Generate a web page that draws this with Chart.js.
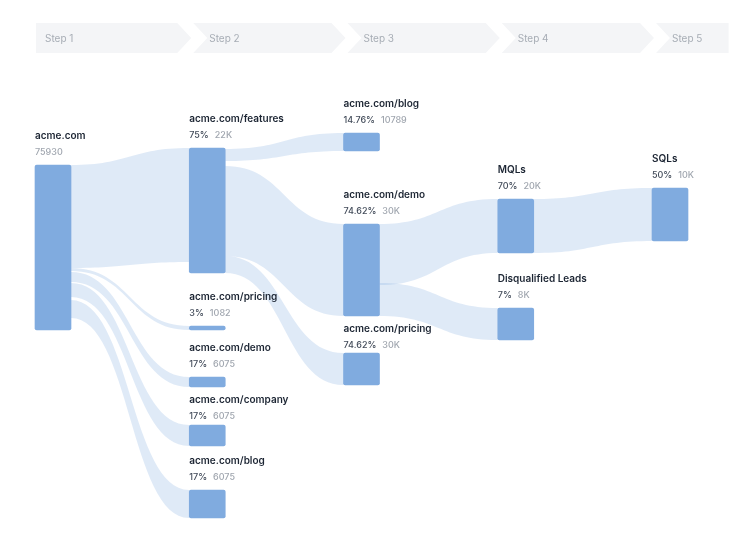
<!DOCTYPE html>
<html>
<head>
<meta charset="utf-8">
<script src="https://cdn.jsdelivr.net/npm/chart.js@4"></script>
<style>
  body { margin: 0; background: #fff; }
  #wrap { width: 748px; height: 534px; position: relative; }
</style>
</head>
<body>
<div id="wrap"><canvas id="myChart"></canvas></div>
<script>
// steps across the top
const steps = ['Step 1', 'Step 2', 'Step 3', 'Step 4', 'Step 5'];

// nodes
const nodeNames = ['acme.com', 'acme.com/features', 'acme.com/pricing', 'acme.com/demo', 'acme.com/company', 'acme.com/blog',
    'acme.com/blog', 'acme.com/demo', 'acme.com/pricing', 'MQLs', 'Disqualified Leads', 'SQLs'];
const nodeStep = [0, 1, 1, 1, 1, 1, 2, 2, 2, 3, 3, 4];
const nodePct = ['', '75%', '3%', '17%', '17%', '17%', '14.76%', '74.62%', '74.62%', '70%', '7%', '50%'];
const nodeValue = ['75930', '22K', '1082', '6075', '6075', '6075', '10789', '30K', '30K', '20K', '8K', '10K'];
// extent of each node on the flow axis (0 = top)
const nodeTop = [165, 148, 326, 377, 425, 490, 133, 224, 353, 199, 308, 188];
const nodeBottom = [330, 273, 330, 387, 446, 518, 151, 316, 385, 253, 340, 241];

// links between nodes (index into nodes) and where they attach
const linkFrom = [0, 0, 0, 0, 0, 1, 1, 1, 7, 7, 9];
const linkTo = [1, 2, 3, 4, 5, 6, 7, 8, 9, 10, 11];
const linkFromTop = [165, 268, 272, 283, 300, 149, 166, 256, 224, 283, 199];
const linkFromBottom = [268, 271, 282, 297, 318, 161, 256, 273, 285, 316, 253];
const linkToTop = [148, 326, 377, 425, 490, 133, 224, 353, 199, 308, 188];
const linkToBottom = [262, 330, 387, 446, 518, 151, 316, 385, 253, 340, 241];

const FONT = 'Inter, "Open Sans", sans-serif';

const headerPlugin = {
    id: 'stepHeader',
    beforeDatasetsDraw(chart) {
        const c = chart.ctx;
        const xs = chart.scales.x;
        const top = 23, bottom = 53, mid = (top + bottom) / 2;
        const d = 14;
        c.save();
        steps.forEach((s, i) => {
            const L = xs.getPixelForValue(i) - 18;
            const isLast = i === steps.length - 1;
            const R = isLast ? xs.getPixelForValue(i + 0.38) : xs.getPixelForValue(i + 1) - 18 + 2;
            const left = i === 0 ? L + 1 : L + 4;
            c.beginPath();
            c.moveTo(left, top);
            if (isLast) {
                c.lineTo(R, top);
                c.lineTo(R, bottom);
            } else {
                c.lineTo(R - d, top);
                c.lineTo(R, mid);
                c.lineTo(R - d, bottom);
            }
            c.lineTo(left, bottom);
            if (i > 0) c.lineTo(left + d, mid);
            c.closePath();
            c.fillStyle = '#f4f5f7';
            c.fill();
            c.fillStyle = '#a7adb5';
            c.font = '400 10px ' + FONT;
            c.textBaseline = 'middle';
            c.fillText(s, i === 0 ? L + 10 : L + 20, mid + 1);
        });
        c.restore();
    }
};

const linkPlugin = {
    id: 'links',
    beforeDatasetsDraw(chart) {
        const c = chart.ctx;
        const ys = chart.scales.y;
        const bars = chart.getDatasetMeta(0).data;
        c.save();
        c.fillStyle = 'rgba(127,170,222,0.25)';
        linkFrom.forEach((f, i) => {
            const a = bars[f], b = bars[linkTo[i]];
            const x0 = a.x + a.width / 2, x1 = b.x - b.width / 2;
            const xm = (x0 + x1) / 2;
            const s0 = ys.getPixelForValue(linkFromTop[i]), s1 = ys.getPixelForValue(linkFromBottom[i]);
            const t0 = ys.getPixelForValue(linkToTop[i]), t1 = ys.getPixelForValue(linkToBottom[i]);
            c.beginPath();
            c.moveTo(x0, s0);
            c.bezierCurveTo(xm, s0, xm, t0, x1, t0);
            c.lineTo(x1, t1);
            c.bezierCurveTo(xm, t1, xm, s1, x0, s1);
            c.closePath();
            c.fill();
        });
        c.restore();
    }
};

const labelPlugin = {
    id: 'nodeLabels',
    afterDatasetsDraw(chart) {
        const c = chart.ctx;
        const bars = chart.getDatasetMeta(0).data;
        c.save();
        c.textBaseline = 'middle';
        bars.forEach((bar, i) => {
            const x = bar.x - bar.width / 2;
            const top = Math.min(bar.y, bar.base);
            // keep the label clear of the node above it in the same step
            let nameY = top - 29;
            if (i > 0 && nodeStep[i - 1] === nodeStep[i]) {
                const prev = bars[i - 1];
                nameY = Math.max(nameY, Math.max(prev.y, prev.base) + 13);
            }
            const statY = nameY + 16;
            c.font = '600 10px ' + FONT;
            c.fillStyle = '#1c2533';
            c.fillText(nodeNames[i], x, nameY);
            let tx = x;
            c.font = '500 9px ' + FONT;
            if (nodePct[i]) {
                c.fillStyle = '#434c5a';
                c.fillText(nodePct[i], tx, statY);
                tx += c.measureText(nodePct[i]).width + 6;
            }
            c.fillStyle = '#a0a6af';
            c.fillText(nodeValue[i], tx, statY);
        });
        c.restore();
    }
};

const ctx = document.getElementById('myChart');
new Chart(ctx, {
    type: 'bar',
    data: {
        datasets: [{
            label: 'Visitors',
            data: nodeNames.map((n, i) => ({ x: nodeStep[i], y: [nodeTop[i], nodeBottom[i]] })),
            backgroundColor: '#80abdf',
            borderRadius: 2,
            borderSkipped: false,
            barThickness: 36
        }]
    },
    options: {
        responsive: true,
        maintainAspectRatio: false,
        animation: false,
        layout: { padding: 0 },
        scales: {
            x: { type: 'linear', min: -53 / 154.25, max: (748 - 53) / 154.25, offset: false, display: false },
            y: { type: 'linear', min: 0, max: 534, reverse: true, display: false }
        },
        plugins: {
            legend: { display: false },
            tooltip: { enabled: false }
        }
    },
    plugins: [headerPlugin, linkPlugin, labelPlugin]
});
</script>
</body>
</html>
